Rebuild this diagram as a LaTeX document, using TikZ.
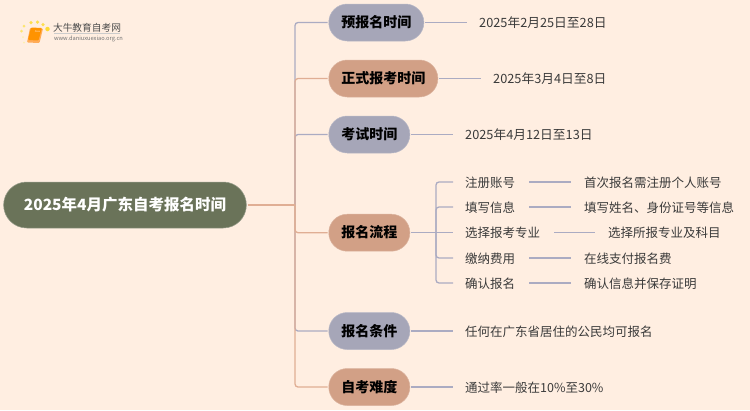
\documentclass[tikz,border=0pt]{standalone}
\usepackage{fontspec}
\setmainfont{Noto Sans CJK SC}
\usetikzlibrary{shapes.misc}

\definecolor{pagebg}{HTML}{FFEEE1}
\definecolor{greyfill}{HTML}{A6A6B8}
\definecolor{salmonfill}{HTML}{D2A086}
\definecolor{rootfill}{HTML}{6A7359}
\definecolor{greyline}{HTML}{ABABC2}
\definecolor{salmonline}{HTML}{E0AE94}
\definecolor{leaftext}{HTML}{3A3A3A}

\tikzset{
  rootpill/.style={rounded rectangle, fill=rootfill, draw=rootfill!70!white, line width=0.5pt,
    minimum height=46pt, inner xsep=19pt, text=white, font=\fontsize{15.5}{16}\selectfont\bfseries},
  greypill/.style={rounded rectangle, fill=greyfill, draw=greyfill!80!white, line width=0.5pt, anchor=west,
    minimum height=37pt, inner xsep=11.8pt, text height=10.5pt, text depth=0pt, text=black,
    font=\fontsize{14}{14}\selectfont\bfseries},
  salmonpill/.style={greypill, fill=salmonfill, draw=salmonfill!80!white},
  leaf/.style={anchor=west, inner sep=0pt, text height=10pt, text depth=0pt, text=leaftext,
    font=\fontsize{12.5}{12.5}\selectfont},
  dateleaf/.style={leaf, font=\fontsize{12.75}{12.5}\selectfont},
  greywire/.style={draw=greyline, line width=1.3pt, rounded corners=3pt},
  salmonwire/.style={draw=salmonline, line width=1.3pt, rounded corners=3pt},
  sundot/.style={circle, fill=#1, inner sep=0pt},
}

\begin{document}
\begin{tikzpicture}[x=1pt, y=-1pt]
\useasboundingbox[fill=pagebg] (0,0) rectangle (750,410);

% logo
\node[sundot=yellow!70!orange!55!white, minimum size=3pt] (d1) at (21.5,31) {};
\node[sundot=yellow!70!orange!55!white, minimum size=3pt] (d2) at (24,26) {};
\node[sundot=yellow!70!orange!70!white, minimum size=3.5pt] (d3) at (31,22.5) {};
\node[sundot=yellow!70!orange!70!white, minimum size=3.5pt] (d4) at (37.5,22) {};
\node[sundot=yellow!70!orange!70!white, minimum size=3.5pt] (d5) at (43,24.5) {};
\node[sundot=yellow!70!orange!80!white, minimum size=4.5pt] (d6) at (47.5,29) {};
\node[sundot=yellow!70!orange!30!white, minimum size=2pt] (d7) at (23,37) {};
\node[sundot=yellow!70!orange!30!white, minimum size=2pt] (d8) at (24,42.5) {};
\fill[orange!65!white, rounded corners=1pt] (30,28) -- (43,28.5) -- (39.5,43) -- (27,42.5) -- cycle;
\fill[orange!85!yellow, rounded corners=1pt] (31,27.5) -- (42,28) -- (38.5,40.5) -- (28,40) -- cycle;
\draw[white!80!orange, line width=0.6pt] (35,31) -- (40,31.2);
\node[inner sep=0pt, text=black!70, font=\fontsize{9.7}{10}\selectfont] (logotitle) at (87,27.5) {大牛教育自考网};
\draw[black!20, line width=0.4pt] (54,33.5) -- (120,33.5);
\node[inner sep=0pt, text=black!55, font=\fontsize{5.7}{6}\selectfont] (logourl) at (88.5,39) {www.daniuxuexiao.org.cn};

% main nodes
\node[rootpill] (root) at (125,205) {2025年4月广东自考报名时间};
\node[greypill] (pre) at (328.5,22.5) {预报名时间};
\node[salmonpill] (formal) at (328.5,78.5) {正式报考时间};
\node[greypill] (exam) at (328.5,134.5) {考试时间};
\node[salmonpill] (flow) at (328.5,232.7) {报名流程};
\node[greypill] (cond) at (328.5,331) {报名条件};
\node[salmonpill] (hard) at (328.5,387) {自考难度};

% leaves
\node[dateleaf] (preleaf) at (479,22.5) {2025年2月25日至28日};
\node[dateleaf] (formalleaf) at (493,78.5) {2025年3月4日至8日};
\node[dateleaf] (examleaf) at (465,134.5) {2025年4月12日至13日};
\node[leaf] (condleaf) at (465,331) {任何在广东省居住的公民均可报名};
\node[leaf] (hardleaf) at (465,387) {通过率一般在10\%至30\%};

\node[leaf] (reg) at (465,182) {注册账号};
\node[leaf] (fill) at (465,207) {填写信息};
\node[leaf] (major) at (465,232.7) {选择报考专业};
\node[leaf] (pay) at (465,258) {缴纳费用};
\node[leaf] (confirm) at (465,283) {确认报名};
\node[leaf] (regnote) at (584,182) {首次报名需注册个人账号};
\node[leaf] (fillnote) at (584,207) {填写姓名、身份证号等信息};
\node[leaf] (majornote) at (608,232.7) {选择所报专业及科目};
\node[leaf] (paynote) at (584,258) {在线支付报名费};
\node[leaf] (confirmnote) at (584,283) {确认信息并保存证明};

\coordinate (hub) at (295,205);
\coordinate (subhub) at (436,232.7);

% branches
\draw[greywire, shorten >=1pt] (hub) |- (pre.west);
\draw[greywire, shorten >=1pt] (hub) |- (exam.west);
\draw[greywire, shorten >=1pt] (hub) |- (cond.west);
\draw[salmonwire, shorten >=1pt] (hub) |- (formal.west);
\draw[salmonwire, shorten >=1pt] (hub) |- (flow.west);
\draw[salmonwire, shorten >=1pt] (hub) |- (hard.west);
\draw[salmonwire, shorten <=1pt] (root.east) -- (hub);

\draw[greywire, shorten <=1pt, shorten >=12pt] (pre.east) -- (preleaf.west);
\draw[greywire, shorten <=1pt, shorten >=12pt] (formal.east) -- (formalleaf.west);
\draw[greywire, shorten <=1pt, shorten >=12pt] (exam.east) -- (examleaf.west);
\draw[greywire, shorten <=1pt, shorten >=12pt] (cond.east) -- (condleaf.west);
\draw[greywire, shorten <=1pt, shorten >=12pt] (hard.east) -- (hardleaf.west);

\draw[greywire, shorten <=1pt] (flow.east) -- (subhub);
\draw[greywire, shorten >=12pt] (subhub) |- (reg.west);
\draw[greywire, shorten >=12pt] (subhub) |- (fill.west);
\draw[greywire, shorten >=12pt] (subhub) -- (major.west);
\draw[greywire, shorten >=12pt] (subhub) |- (pay.west);
\draw[greywire, shorten >=12pt] (subhub) |- (confirm.west);

\draw[greywire, shorten <=14pt, shorten >=13pt] (reg.east) -- (regnote.west);
\draw[greywire, shorten <=14pt, shorten >=13pt] (fill.east) -- (fillnote.west);
\draw[greywire, shorten <=14pt, shorten >=13pt] (major.east) -- (majornote.west);
\draw[greywire, shorten <=14pt, shorten >=13pt] (pay.east) -- (paynote.west);
\draw[greywire, shorten <=14pt, shorten >=13pt] (confirm.east) -- (confirmnote.west);
\end{tikzpicture}
\end{document}
